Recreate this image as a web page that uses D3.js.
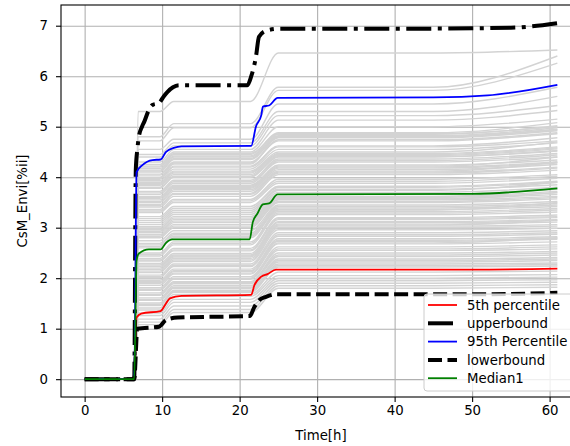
<!DOCTYPE html>
<html lang="en">
  <head>
    <meta charset="UTF-8" />
    <script src="https://d3js.org/d3.v7.min.js"></script>
    <title>CsM_Envi</title>
    <style>
      body { margin: 0; background: #fff; }
      text { font-family: "DejaVu Sans", sans-serif; fill: #000; }
    </style>
  </head>
  <body>
    <script>
      // ---- data ----
      const xTicks = [0, 10, 20, 30, 40, 50, 60];
      const yTicks = [0, 1, 2, 3, 4, 5, 6, 7];

      const upperT = [0, 6.4, 6.6, 6.8, 7.0, 7.4, 7.7, 8.2, 8.75, 9.6, 10.2, 10.7, 11.4, 12.2, 21.0, 21.5, 22.1, 22.5, 23.4, 25.1, 40, 55, 61];
      const upperV = [0, 0, 4.14, 4.55, 4.8, 5.0, 5.1, 5.3, 5.43, 5.47, 5.6, 5.69, 5.78, 5.82, 5.82, 6.0, 6.38, 6.78, 6.9, 6.94, 6.94, 6.96, 7.05];

      const p95T = [0, 6.4, 6.7, 7.45, 8.75, 9.8, 10.5, 11.5, 12.5, 21.5, 22.1, 22.8, 23.0, 23.8, 24.9, 45, 52, 61];
      const p95V = [0, 0, 4.1, 4.24, 4.34, 4.35, 4.5, 4.58, 4.61, 4.62, 5.0, 5.23, 5.4, 5.42, 5.57, 5.58, 5.62, 5.83];

      const medT = [0, 6.4, 6.7, 7.0, 8.3, 9.8, 10.5, 11.3, 21.3, 21.7, 22.3, 23.0, 23.8, 24.9, 50, 61];
      const medV = [0, 0, 2.35, 2.49, 2.57, 2.57, 2.7, 2.77, 2.77, 3.11, 3.28, 3.46, 3.48, 3.66, 3.67, 3.78];

      const p5T = [0, 6.4, 6.7, 7.3, 9.8, 10.5, 11, 12.5, 21.5, 21.9, 22.8, 23.6, 24.7, 50, 61];
      const p5V = [0, 0, 1.22, 1.3, 1.35, 1.5, 1.6, 1.65, 1.67, 1.86, 2.03, 2.08, 2.17, 2.17, 2.19];

      const lowerT = [0, 6.4, 6.8, 9.6, 10.5, 12, 21.3, 21.9, 22.5, 23.4, 24.7, 50, 61];
      const lowerV = [0, 0, 1.0, 1.04, 1.17, 1.22, 1.25, 1.43, 1.56, 1.63, 1.68, 1.68, 1.71];

      // gray runs: times shared, each row = [first plateau, after 10h rise, after 22h rise, value at 61h]
      const grayKnots = [0, 6.4, 6.9, 9.7, 11.5, 21.4, 25, 45, 61];
      const grayLevels = [
        [5.3, 5.5, 6.46, 6.52], [4.8, 5.06, 5.78, 6.4], [4.72, 4.98, 5.72, 6.26],
        [4.55, 4.75, 5.45, 5.78], [4.45, 4.68, 5.3, 5.6], [4.4, 4.62, 5.22, 5.42],
        [4.3, 4.55, 5.13, 5.32], [4.25, 4.5, 5.0, 5.15], [4.2, 4.45, 4.88, 5.08],
        [4.17, 4.42, 4.85, 5.02], [4.14, 4.4, 4.82, 4.98], [4.1, 4.35, 4.78, 4.92],
        [4.04, 4.28, 4.74, 4.88], [3.98, 4.22, 4.62, 4.78], [3.93, 4.16, 4.55, 4.68],
        [3.88, 4.1, 4.47, 4.6], [3.84, 4.05, 4.43, 4.56], [3.78, 4.0, 4.4, 4.52],
        [3.72, 3.94, 4.36, 4.47], [3.66, 3.88, 4.3, 4.4], [3.62, 3.84, 4.24, 4.34],
        [3.58, 3.8, 4.2, 4.3], [3.52, 3.75, 4.15, 4.25], [3.46, 3.68, 4.1, 4.2],
        [3.41, 3.62, 4.05, 4.14], [3.36, 3.56, 3.96, 4.05], [3.3, 3.5, 3.88, 3.98],
        [3.22, 3.42, 3.82, 3.92], [3.14, 3.34, 3.76, 3.85], [3.06, 3.26, 3.7, 3.8],
        [2.99, 3.19, 3.62, 3.72], [2.93, 3.13, 3.58, 3.66], [2.86, 3.06, 3.55, 3.62],
        [2.8, 3.0, 3.5, 3.57], [2.74, 2.94, 3.45, 3.52], [2.69, 2.89, 3.42, 3.48],
        [2.63, 2.83, 3.36, 3.42], [2.5, 2.72, 3.32, 3.38], [2.44, 2.66, 3.26, 3.31],
        [2.39, 2.59, 3.2, 3.25], [2.34, 2.54, 3.16, 3.2], [2.29, 2.49, 3.12, 3.16],
        [2.23, 2.44, 3.07, 3.11], [2.17, 2.39, 3.03, 3.06], [2.11, 2.33, 2.96, 2.99],
        [2.06, 2.28, 2.9, 2.94], [2.01, 2.23, 2.83, 2.87], [1.96, 2.18, 2.78, 2.82],
        [1.91, 2.13, 2.73, 2.77], [1.86, 2.08, 2.68, 2.72], [1.81, 2.03, 2.62, 2.66],
        [1.76, 1.98, 2.55, 2.58], [1.71, 1.93, 2.5, 2.53], [1.66, 1.89, 2.43, 2.46],
        [1.61, 1.85, 2.38, 2.41], [1.56, 1.8, 2.32, 2.35], [1.51, 1.76, 2.28, 2.3],
        [1.46, 1.72, 2.22, 2.24], [1.41, 1.68, 2.12, 2.14], [1.37, 1.64, 2.05, 2.07],
        [1.31, 1.58, 2.0, 2.02], [1.26, 1.52, 1.95, 1.97], [1.19, 1.45, 1.9, 1.92],
        [1.13, 1.38, 1.85, 1.87], [1.08, 1.32, 1.8, 1.82],
        [4.0, 4.26, 4.8, 4.95], [3.9, 4.12, 4.5, 4.7], [3.6, 3.82, 4.22, 4.4],
        [3.5, 3.72, 4.12, 4.3], [3.1, 3.3, 3.74, 3.9], [2.9, 3.1, 3.56, 3.7],
        [2.6, 2.8, 3.35, 3.5], [2.2, 2.42, 3.05, 3.15], [1.9, 2.1, 2.7, 2.8],
        [4.22, 4.47, 4.86, 5.0], [4.12, 4.37, 4.8, 4.94], [4.06, 4.3, 4.72, 4.86],
        [3.96, 4.2, 4.6, 4.72], [3.86, 4.08, 4.45, 4.58], [3.8, 4.02, 4.41, 4.53],
        [3.69, 3.91, 4.33, 4.44], [3.55, 3.78, 4.18, 4.28], [3.44, 3.66, 4.08, 4.18],
        [3.33, 3.53, 3.92, 4.02], [3.18, 3.38, 3.8, 3.9], [3.02, 3.22, 3.66, 3.76],
        [2.96, 3.16, 3.6, 3.69], [2.83, 3.03, 3.52, 3.6], [2.66, 2.86, 3.39, 3.45],
        [2.47, 2.69, 3.29, 3.35], [2.36, 2.56, 3.18, 3.22], [2.26, 2.46, 3.1, 3.14],
        [2.14, 2.36, 3.0, 3.03], [2.03, 2.25, 2.86, 2.9], [1.93, 2.15, 2.75, 2.79],
        [1.78, 2.0, 2.58, 2.62], [1.68, 1.91, 2.46, 2.5], [1.58, 1.82, 2.35, 2.38],
        [1.48, 1.74, 2.25, 2.27]
      ];

      const series = [
        { name: "5th percentile", t: p5T, v: p5V, color: "#ff0000", width: 1.8, dash: null },
        { name: "upperbound", t: upperT, v: upperV, color: "#000", width: 4, dash: "25,6.5,4,6.5" },
        { name: "95th Percentile", t: p95T, v: p95V, color: "#0000ff", width: 1.8, dash: null },
        { name: "lowerbound", t: lowerT, v: lowerV, color: "#000", width: 4, dash: "14,5.5" },
        { name: "Median1", t: medT, v: medV, color: "#008000", width: 1.8, dash: null }
      ];

      // ---- layout ----
      const W = 570, H = 446;
      const mLeft = 61, mTop = 5, mRight = 581, mBottom = 397;

      const svg = d3.select("body").append("svg")
        .attr("width", W).attr("height", H);

      const x = d3.scaleLinear().domain([-3.05, 64.05]).range([mLeft, mRight]);
      const y = d3.scaleLinear().domain([-0.353, 7.41]).range([mBottom, mTop]);

      // grid
      svg.append("g")
        .attr("transform", `translate(0,${mBottom})`)
        .call(d3.axisBottom(x).tickValues(xTicks).tickSize(-(mBottom - mTop)).tickFormat(""))
        .call(g => g.select(".domain").remove())
        .selectAll("line").attr("stroke", "#b0b0b0").attr("stroke-width", 1.1);
      svg.append("g")
        .attr("transform", `translate(${mLeft},0)`)
        .call(d3.axisLeft(y).tickValues(yTicks).tickSize(-(mRight - mLeft)).tickFormat(""))
        .call(g => g.select(".domain").remove())
        .selectAll("line").attr("stroke", "#b0b0b0").attr("stroke-width", 1.1);

      svg.append("clipPath").attr("id", "plot")
        .append("rect").attr("x", mLeft).attr("y", mTop)
        .attr("width", mRight - mLeft).attr("height", mBottom - mTop);

      const plot = svg.append("g").attr("clip-path", "url(#plot)");
      const line = d3.line()
        .x(d => x(d[0])).y(d => y(d[1]))
        .curve(d3.curveMonotoneX);

      plot.selectAll("path.run")
        .data(grayLevels)
        .enter().append("path")
        .attr("class", "run")
        .attr("d", r => {
          const vals = [0, 0, r[0], r[0], r[1], r[1], r[2], r[2], r[3]];
          return line(grayKnots.map((t, i) => [t, vals[i]]));
        })
        .attr("fill", "none")
        .attr("stroke", "#d3d3d3")
        .attr("stroke-width", 1.4);

      series.forEach(s => {
        plot.append("path")
          .attr("d", line(s.t.map((t, i) => [t, s.v[i]])))
          .attr("fill", "none")
          .attr("stroke", s.color)
          .attr("stroke-width", s.width)
          .attr("stroke-dasharray", s.dash);
      });

      // axes
      const xAxis = svg.append("g")
        .attr("transform", `translate(0,${mBottom})`)
        .call(d3.axisBottom(x).tickValues(xTicks).tickSize(5).tickPadding(4));
      const yAxis = svg.append("g")
        .attr("transform", `translate(${mLeft},0)`)
        .call(d3.axisLeft(y).tickValues(yTicks).tickSize(5).tickPadding(8));
      [xAxis, yAxis].forEach(a => {
        a.select(".domain").remove();
        a.selectAll("line").attr("stroke", "#000").attr("stroke-width", 1.1);
        a.selectAll("text").style("font-size", "13.3px")
          .style("font-family", "'DejaVu Sans', sans-serif").attr("fill", "#000");
      });

      // spines
      svg.append("rect")
        .attr("x", mLeft).attr("y", mTop)
        .attr("width", mRight - mLeft).attr("height", mBottom - mTop)
        .attr("fill", "none").attr("stroke", "#000").attr("stroke-width", 1.1);

      svg.append("text")
        .attr("x", (mLeft + mRight) / 2).attr("y", 440)
        .attr("text-anchor", "middle")
        .style("font-size", "13.3px")
        .text("Time[h]");
      svg.append("text")
        .attr("transform", `translate(27,${(mTop + mBottom) / 2}) rotate(-90)`)
        .attr("text-anchor", "middle")
        .style("font-size", "13.3px")
        .text("CsM_Envi[%ii]");

      // legend
      const lg = svg.append("g").attr("transform", "translate(424,294)");
      lg.append("rect")
        .attr("width", 170).attr("height", 97).attr("rx", 3)
        .attr("fill", "#fff").attr("fill-opacity", 0.8)
        .attr("stroke", "#cccccc").attr("stroke-width", 1);
      series.forEach((s, i) => {
        const yy = 11 + i * 18.3;
        lg.append("line")
          .attr("x1", 4).attr("x2", 33).attr("y1", yy).attr("y2", yy)
          .attr("stroke", s.color)
          .attr("stroke-width", s.width)
          .attr("stroke-dasharray", s.dash);
        lg.append("text")
          .attr("x", 43).attr("y", yy + 4.8)
          .style("font-size", "13.3px")
          .text(s.name);
      });
    </script>
  </body>
</html>
